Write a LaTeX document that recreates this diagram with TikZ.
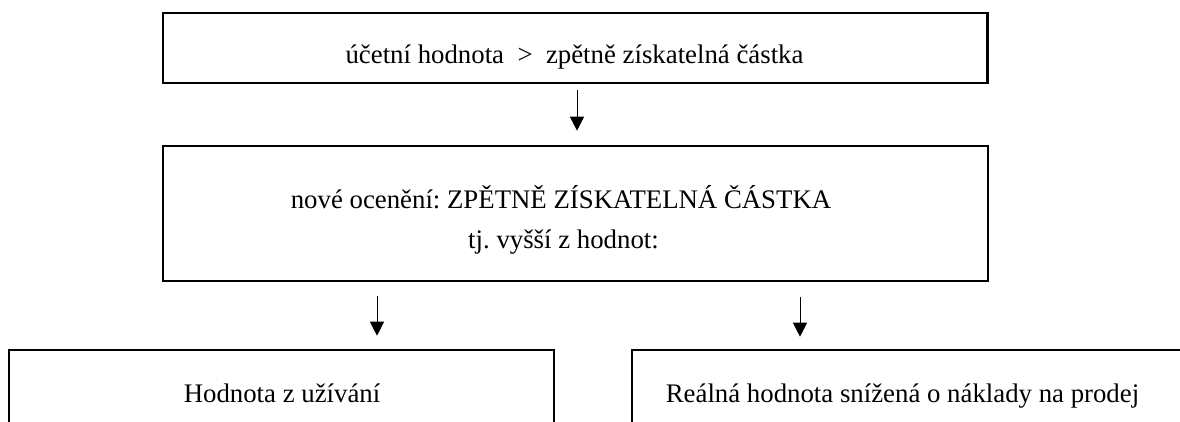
\documentclass[tikz,border=0pt]{standalone}
\usepackage{fontspec}
\setmainfont{Liberation Serif}
\usetikzlibrary{arrows.meta}
\frenchspacing
\begin{document}
\begin{tikzpicture}[x=1pt, y=-1pt,
	box/.style={draw, line width=2.6pt, inner sep=0pt},
	txt/.style={anchor=base, inner sep=0pt, font=\fontsize{26.8}{32}\selectfont},
	arr/.style={line width=1pt, -{Triangle[width=14pt, length=14pt]}}]
		\clip (0,0) rectangle (1180,421);
		\node[box, minimum width=824.5, minimum height=70] (Comparison) at (575.25,48) {};
		\node[box, minimum width=825, minimum height=135] (Recoverable) at (575.5,213.5) {};
		\node[box, minimum width=545, minimum height=200] (Value in use) at (281.5,450) {};
		\node[box, minimum width=580, minimum height=200] (Fair value) at (922,450) {};
		% Texts
		\node[txt] (Comparison text) at (574.5,63) {účetní hodnota \ >\ \ zpětně získatelná částka};
		\node[txt] (Recoverable text) at (561,208) {nové ocenění: ZPĚTNĚ ZÍSKATELNÁ ČÁSTKA};
		\node[txt] (Higher text) at (563.5,248) {tj. vyšší z hodnot:};
		\node[txt] (Value in use text) at (282,402) {Hodnota z užívání};
		\node[txt] (Fair value text) at (902.5,402) {Reálná hodnota snížená o náklady na prodej};
		% Arrows
		\draw[arr, shorten <=6pt, shorten >=14pt] ([xshift=1.75pt]Comparison.south) -- ([xshift=1.5pt]Recoverable.north);
		\draw[arr, shorten <=14pt, shorten >=13pt] ([xshift=-198.5pt]Recoverable.south) -- ([xshift=95.5pt]Value in use.north);
		\draw[arr, shorten <=15pt, shorten >=12pt] ([xshift=224.5pt]Recoverable.south) -- ([xshift=-122pt]Fair value.north);
	\end{tikzpicture}
\end{document}
